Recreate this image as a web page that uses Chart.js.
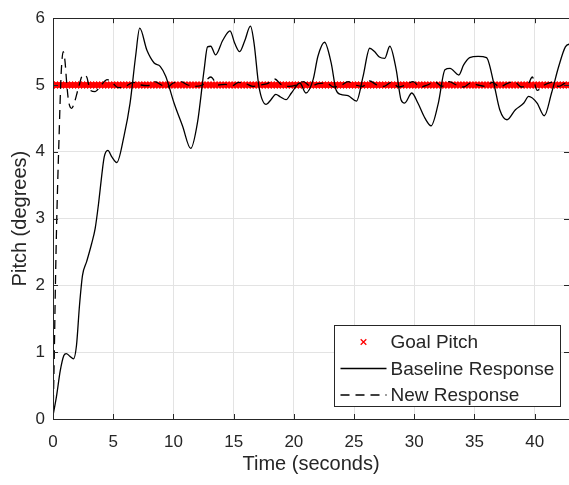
<!DOCTYPE html>
<html>
<head>
<meta charset="utf-8">
<script src="https://cdn.jsdelivr.net/npm/chart.js@4.4.1/dist/chart.umd.min.js"></script>
<style>
  html, body { margin: 0; padding: 0; background: #ffffff; }
  #wrap { width: 569px; height: 485px; }
</style>
</head>
<body>
<div id="wrap"><canvas id="c" width="569" height="485"></canvas></div>
<script>
// ---------- data ----------
const goalPitch = 5;
const goalTimes = [
  0,0.25,0.5,0.75,1,1.25,1.5,1.75,2,2.25,2.5,2.75,3,3.25,3.5,3.75,4,4.25,4.5,4.75,
  5,5.25,5.5,5.75,6,6.25,6.5,6.75,7,7.25,7.5,7.75,8,8.25,8.5,8.75,9,9.25,9.5,9.75,
  10,10.25,10.5,10.75,11,11.25,11.5,11.75,12,12.25,12.5,12.75,13,13.25,13.5,13.75,14,14.25,14.5,14.75,
  15,15.25,15.5,15.75,16,16.25,16.5,16.75,17,17.25,17.5,17.75,18,18.25,18.5,18.75,19,19.25,19.5,19.75,
  20,20.25,20.5,20.75,21,21.25,21.5,21.75,22,22.25,22.5,22.75,23,23.25,23.5,23.75,24,24.25,24.5,24.75,
  25,25.25,25.5,25.75,26,26.25,26.5,26.75,27,27.25,27.5,27.75,28,28.25,28.5,28.75,29,29.25,29.5,29.75,
  30,30.25,30.5,30.75,31,31.25,31.5,31.75,32,32.25,32.5,32.75,33,33.25,33.5,33.75,34,34.25,34.5,34.75,
  35,35.25,35.5,35.75,36,36.25,36.5,36.75,37,37.25,37.5,37.75,38,38.25,38.5,38.75,39,39.25,39.5,39.75,
  40,40.25,40.5,40.75,41,41.25,41.5,41.75,42,42.25,42.5,42.75,43
];

const baselineTimes = [
  0,0.3,0.6,0.9,1.1,1.4,1.7,1.95,2.2,2.45,2.8,3.2,3.5,3.8,4.05,4.25,4.55,4.9,5.3,5.9,
  6.4,6.86,7.2,7.8,8.4,8.9,9.36,10.05,10.75,11.44,12.0,12.55,12.83,13.1,13.5,14.1,14.7,15.1,15.5,15.9,
  16.4,16.7,17.1,17.7,18.1,18.5,18.9,19.35,19.8,20.5,21.0,21.6,22.0,22.55,23.1,23.5,23.9,24.5,25.2,25.75,
  26.3,26.7,27.1,27.55,27.97,28.5,28.9,29.2,29.8,30.3,30.9,31.4,32.0,32.55,32.97,33.7,34.1,34.6,35.3,36.0,
  36.6,37.1,37.7,38.4,39.1,39.5,40.2,40.8,41.4,42.0,42.55,43.0
];
const baselineValues = [
  0.05,0.35,0.72,0.95,0.98,0.94,0.9,1.1,1.7,2.15,2.36,2.62,2.85,3.25,3.65,3.92,4.02,3.92,3.84,4.24,
  4.73,5.43,5.85,5.52,5.33,5.28,5.13,4.73,4.39,4.05,4.44,5.23,5.57,5.58,5.45,5.67,5.81,5.62,5.5,5.65,
  5.88,5.62,4.98,4.71,4.78,4.86,4.82,4.78,4.88,5.03,4.88,5.08,5.43,5.64,5.33,4.93,4.86,4.84,4.76,5.13,
  5.55,5.5,5.42,5.4,5.58,5.23,4.78,4.73,4.88,4.73,4.5,4.39,4.73,5.23,5.25,5.15,5.3,5.41,5.43,5.41,
  5.03,4.63,4.48,4.63,4.73,4.83,4.73,4.54,4.88,5.28,5.57,5.62
];

const newTimes = [
  0,0.1,0.2,0.3,0.4,0.5,0.6,0.7,0.85,1.0,1.15,1.3,1.55,1.8,2.1,2.5,2.8,3.1,3.5,4.0,
  4.5,5.0,5.4,6.0,6.7,7.3,7.9,8.4,9.0,9.4,10.0,10.6,11.2,11.8,12.4,13.1,13.7,14.3,14.9,15.4,
  16.0,16.6,17.2,17.8,18.4,19.0,19.6,20.2,20.8,21.4,22.0,22.7,23.3,23.9,24.5,25.1,25.7,26.3,26.9,27.5,
  28.1,28.7,29.3,29.9,30.5,31.1,31.7,32.3,32.9,33.5,34.1,34.7,35.3,35.9,36.5,37.1,37.7,38.3,38.9,39.5,
  39.8,40.2,40.8,41.4,42.0,42.6,43.0
];
const newValues = [
  0,0.9,2.0,2.9,3.6,4.2,4.8,5.25,5.5,5.35,5.0,4.75,4.65,4.75,4.95,5.15,5.12,4.92,4.9,5.0,
  5.08,5.02,4.96,4.98,5.04,5.0,4.99,5.05,5.0,4.96,5.03,5.05,5.0,4.98,5.0,5.12,5.0,5.01,4.99,5.04,
  5.02,4.98,5.0,5.02,5.09,5.0,4.98,5.0,5.05,4.98,5.02,5.03,4.97,4.99,5.05,5.0,4.98,5.06,5.0,4.98,
  5.04,4.97,5.0,5.05,4.97,5.0,5.05,4.98,5.05,5.0,4.97,5.03,5.0,4.98,5.04,4.97,5.02,5.05,4.97,5.03,
  5.12,4.92,5.0,5.04,4.98,5.03,5.0
];

const xTickStep = 5;
const yTickStep = 1;
const xRange = [0, 42.85];
const yRange = [0, 6];
const labels = { goal: 'Goal Pitch', baseline: 'Baseline Response', newResp: 'New Response' };
const axisTitles = { x: 'Time (seconds)', y: 'Pitch (degrees)' };

// ---------- styling ----------
const FONT = "'Liberation Sans', Arial, Helvetica, sans-serif";
const INK = '#262626';

const zip = (xs, ys) => xs.map((x, i) => ({ x: x, y: ys[i] }));

const boxPlugin = {
  id: 'matlabBox',
  afterDraw(chart) {
    const { ctx, chartArea: a, scales } = chart;
    ctx.save();
    ctx.strokeStyle = INK;
    ctx.lineWidth = 1;
    const tl = 5;
    ctx.beginPath();
    scales.x.ticks.forEach(t => {
      const px = Math.round(scales.x.getPixelForValue(t.value)) + 0.5;
      ctx.moveTo(px, a.bottom); ctx.lineTo(px, a.bottom - tl);
      ctx.moveTo(px, a.top); ctx.lineTo(px, a.top + tl);
    });
    scales.y.ticks.forEach(t => {
      const py = Math.round(scales.y.getPixelForValue(t.value)) + 0.5;
      ctx.moveTo(a.left, py); ctx.lineTo(a.left + tl, py);
      ctx.moveTo(a.right, py); ctx.lineTo(a.right - tl, py);
    });
    ctx.stroke();
    ctx.strokeRect(Math.round(a.left) + 0.5, Math.round(a.top) + 0.5,
                   Math.round(a.right - a.left), Math.round(a.bottom - a.top));

    // legend
    const bw = 226, bh = 81;
    const bx = Math.round(a.right - bw - 9) + 0.5;
    const by = Math.round(a.bottom - bh - 13) + 0.5;
    ctx.fillStyle = '#ffffff';
    ctx.fillRect(bx, by, bw, bh);
    ctx.strokeStyle = INK;
    ctx.strokeRect(bx, by, bw, bh);
    ctx.font = '19px ' + FONT;
    ctx.textBaseline = 'middle';
    ctx.textAlign = 'left';
    const ds = chart.data.datasets;
    const order = [2, 0, 1];
    order.forEach((di, row) => {
      const d = ds[di];
      const cy = by + 16.5 + row * 26.5;
      const sx0 = bx + 6, sx1 = bx + 52;
      if (d.showLine === false) {
        const cx = bx + 29;
        const r = 2.8;
        ctx.strokeStyle = d.borderColor;
        ctx.lineWidth = 1.3;
        ctx.setLineDash([]);
        ctx.beginPath();
        ctx.moveTo(cx - r, cy - r); ctx.lineTo(cx + r, cy + r);
        ctx.moveTo(cx - r, cy + r); ctx.lineTo(cx + r, cy - r);
        ctx.stroke();
      } else {
        ctx.strokeStyle = d.borderColor;
        ctx.lineWidth = d.borderWidth;
        ctx.setLineDash(d.borderDash || []);
        ctx.beginPath();
        ctx.moveTo(sx0, cy); ctx.lineTo(sx1, cy);
        ctx.stroke();
        ctx.setLineDash([]);
      }
      ctx.fillStyle = INK;
      ctx.fillText(d.label, bx + 56, cy + 1);
    });
    ctx.restore();
  }
};

new Chart(document.getElementById('c'), {
  type: 'line',
  data: {
    datasets: [
      {
        label: labels.baseline,
        data: zip(baselineTimes, baselineValues),
        borderColor: '#000000',
        borderWidth: 1.3,
        pointRadius: 0,
        cubicInterpolationMode: 'monotone',
        fill: false,
        order: 1
      },
      {
        label: labels.newResp,
        data: zip(newTimes, newValues),
        borderColor: '#000000',
        borderWidth: 1.3,
        borderDash: [9, 6],
        pointRadius: 0,
        cubicInterpolationMode: 'monotone',
        fill: false,
        order: 2
      },
      {
        label: labels.goal,
        data: goalTimes.map(t => ({ x: t, y: goalPitch })),
        showLine: false,
        borderColor: '#ff0000',
        backgroundColor: '#ff0000',
        pointStyle: 'crossRot',
        pointRadius: 3.8,
        pointBorderWidth: 3.2,
        order: 3
      }
    ]
  },
  options: {
    responsive: false,
    animation: false,
    layout: { autoPadding: false, padding: { top: 14, right: 0, left: 0, bottom: 0 } },
    plugins: { legend: { display: false }, tooltip: { enabled: false } },
    scales: {
      x: {
        type: 'linear',
        min: xRange[0], max: xRange[1],
        afterFit(s) { s.height = 66; s.paddingRight = 0; },
        ticks: { stepSize: xTickStep, includeBounds: false, color: INK, padding: 13,
                 font: { family: FONT, size: 17 }, maxRotation: 0 },
        grid: { color: '#e3e3e3', drawTicks: false },
        border: { display: false },
        title: { display: true, text: axisTitles.x, color: INK,
                 font: { family: FONT, size: 20, lineHeight: 1.65 } }
      },
      y: {
        type: 'linear',
        min: yRange[0], max: yRange[1],
        afterFit(s) { s.width = 53; },
        ticks: { stepSize: yTickStep, color: INK, padding: 8,
                 font: { family: FONT, size: 17 } },
        grid: { color: '#e3e3e3', drawTicks: false },
        border: { display: false },
        title: { display: true, text: axisTitles.y, color: INK,
                 font: { family: FONT, size: 20, lineHeight: 1.6 } }
      }
    }
  },
  plugins: [boxPlugin]
});
</script>
</body>
</html>
